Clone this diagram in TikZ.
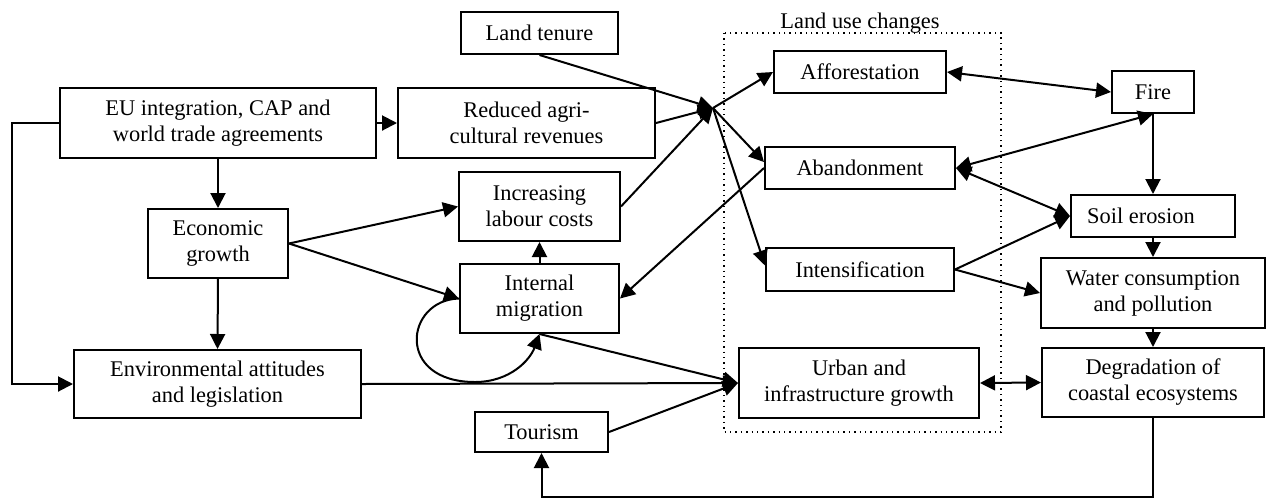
\documentclass[tikz,border=0pt]{standalone}
\usepackage{fontspec}
\setmainfont{Liberation Serif}
\usetikzlibrary{arrows.meta}
\begin{document}
\begin{tikzpicture}[x=0.5pt,y=-0.5pt,
  >={Triangle[length=7.5pt,width=7.5pt]},
  bx/.style={draw, line width=1pt, inner sep=0pt, align=center,
    font=\fontsize{11.2}{13}\selectfont},
  ar/.style={line width=1pt, ->},
  dar/.style={line width=1pt, <->},
  ln/.style={line width=1pt}]
\useasboundingbox (0,0) rectangle (1266,500);

% land use changes group
\draw[dotted, line width=0.7pt] (724,33) rectangle (1001,432);
\node[anchor=base, font=\fontsize{11.2}{13}\selectfont] (lucl) at (860,28) {Land use changes};

% nodes
\node[bx, minimum width=158pt, minimum height=35pt] (eu) at (218,123) {EU integration, CAP and\\world trade agreements};
\node[bx, minimum width=128.5pt, minimum height=35pt] (red) at (526.5,123) {Reduced agri-\\cultural revenues};
\node[bx, minimum width=78.5pt, minimum height=21pt] (land) at (539.5,33) {Land tenure};
\node[bx, minimum width=80.5pt, minimum height=34.5pt] (lab) at (539.5,206.5) {Increasing\\labour costs};
\node[bx, minimum width=70pt, minimum height=34.5pt] (econ) at (218,243.5) {Economic\\growth};
\node[bx, minimum width=79.5pt, minimum height=34.5pt] (mig) at (539.5,298.5) {Internal\\migration};
\node[bx, minimum width=143.5pt, minimum height=34pt] (env) at (217.5,384) {Environmental attitudes\\and legislation};
\node[bx, minimum width=66.5pt, minimum height=20pt] (tour) at (541.5,432) {Tourism};
\node[bx, minimum width=86pt, minimum height=21pt] (aff) at (860,72) {Afforestation};
\node[bx, minimum width=95pt, minimum height=21pt] (aban) at (860,168) {Abandonment};
\node[bx, minimum width=94pt, minimum height=21.5pt] (int) at (860,269.5) {Intensification};
\node[bx, minimum width=120pt, minimum height=35pt] (urb) at (859,383) {Urban and\\infrastructure growth};
\node[bx, minimum width=41pt, minimum height=21pt] (fire) at (1153,92) {Fire};
\node[bx, minimum width=82pt, minimum height=21pt] (soil) at (1153,216) {Soil erosion\hspace*{12pt}};
\node[bx, minimum width=112pt, minimum height=35pt] (water) at (1153,293) {Water consumption\\and pollution};
\node[bx, minimum width=111pt, minimum height=34.5pt] (deg) at (1153,382.5) {Degradation of\\coastal ecosystems};

% helper coordinates
\coordinate (hub) at (713,108);
\coordinate (lft) at (12,123);
\coordinate (fb) at (1153,497);
\coordinate (loopb) at (475,382);

% connectors
\draw[ar] (eu.east) -- (red.west);
\draw[ar] (eu.south) -- (econ.north);
\draw[ar] (eu.west) -- (lft) |- (env.west);
\draw[ar] (econ.south) -- (env.north);
\draw[ar] (econ.east) -- (lab.west);
\draw[ar] (econ.east) -- (mig.west);
\draw[ar] (mig.north) -- (lab.south);
\draw[ar] (mig.west) .. controls (405,300) and (395,382) .. (loopb)
                     .. controls (510,382) and (530,360) .. (mig.south);

\draw[ar] (land.south) -- (hub);
\draw[ar] (red.east) -- (hub);
\draw[ar] (lab.east) -- (hub);
\draw[ar] (hub) -- (aff.west);
\draw[ar] (hub) -- ([yshift=3pt]aban.west);
\draw[ar] (hub) -- ([yshift=2pt]int.west);

\draw[ar] (aban.west) -- (mig.east);
\draw[ar] (env.east) -- (urb.west);
\draw[ar] (mig.south) -- (urb.west);
\draw[ar] (tour.east) -- (urb.west);
\draw[dar] (urb.east) -- (deg.west);

\draw[dar] (aff.east) -- (fire.west);
\draw[dar] (aban.east) -- (fire.south);
\draw[dar] (aban.east) -- (soil.west);
\draw[ar] (int.east) -- (soil.west);
\draw[ar] (int.east) -- (water.west);

\draw[ar] (fire.south) -- (soil.north);
\draw[ar] (soil.south) -- (water.north);
\draw[ar] (water.south) -- (deg.north);
\draw[ar] (deg.south) -- (fb) -| (tour.south);
\end{tikzpicture}
\end{document}
